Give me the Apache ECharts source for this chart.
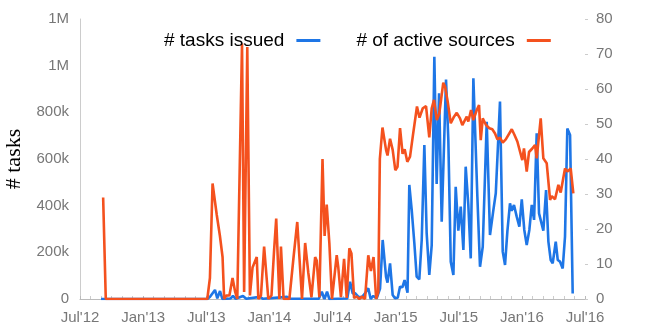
<!DOCTYPE html>
<html><head><meta charset="utf-8">
<script src="https://cdn.jsdelivr.net/npm/echarts@6/dist/echarts.min.js"></script>
<style>html,body{margin:0;padding:0;background:#fff}#c{width:664px;height:332px}</style>
</head><body><div id="c"></div>
<script>
// x values are months since Jul 2012
const xTickLabels = ["Jul'12","Jan'13","Jul'13","Jan'14","Jul'14","Jan'15","Jul'15","Jan'16","Jul'16"];
const leftTickLabels = ['0','200k','400k','600k','800k','1M','1M'];
const seriesNames = ['# tasks issued', '# of active sources'];

const tasksIssued = [
 [2.0,0],[12.1,0],[12.36,10000],[12.83,39000],[13.05,3000],[13.31,34000],[13.53,0],
 [14.3,2000],[14.54,13000],[14.8,1000],[15.49,13000],[15.8,1000],[17.1,9000],[17.4,1000],
 [19.68,9000],[20.0,1000],[22.7,1000],[22.98,31000],[23.24,0],[23.48,31000],[23.7,0],
 [25.4,2000],[25.67,74000],[25.92,24000],[26.14,25000],[26.45,10000],[26.8,8000],[27.09,24000],
 [27.4,46000],[27.63,0],[27.88,13000],[28.2,3000],[28.52,45000],[28.77,253000],[29.09,95000],
 [29.23,70000],[29.47,153000],[29.72,17000],[29.94,3000],[30.2,5000],[30.42,53000],[30.64,50000],
 [30.85,81000],[30.99,78000],[31.13,27000],[31.3,489000],[31.53,381000],[31.78,239000],[32.0,96000],
 [32.25,84000],[32.48,253000],[32.73,660000],[32.95,282000],[33.2,103000],[33.43,231000],
 [33.68,1038000],[33.9,493000],[34.13,882000],[34.38,331000],[34.79,941000],[35.01,681000],
 [35.24,160000],[35.49,103000],[35.71,481000],[35.96,293000],[36.19,396000],[36.44,210000],
 [36.66,567000],[36.91,403000],[37.14,174000],[37.39,946000],[37.55,941000],[37.77,438000],
 [38.02,138000],[38.28,224000],[38.66,760000],[38.97,274000],[39.29,381000],[39.52,453000],
 [39.67,450000],[39.92,846000],[40.18,203000],[40.4,146000],[40.62,289000],[40.87,410000],
 [41.03,378000],[41.25,403000],[41.51,353000],[41.76,310000],[41.99,427000],[42.23,296000],
 [42.46,231000],[42.71,296000],[42.94,403000],[43.16,339000],[43.41,710000],[43.63,367000],
 [43.82,374000],[44.04,293000],[44.3,467000],[44.52,246000],[44.74,167000],[44.93,153000],
 [45.22,246000],[45.41,167000],[45.63,160000],[45.88,131000],[46.1,267000],[46.32,731000],
 [46.58,703000],[46.83,24000]
];

const activeSources = [
 [2.2,29],[2.45,0],[12.1,0],[12.35,6],[12.6,33],[13.0,24],[13.3,18],[13.55,12],[13.7,0],
 [13.9,1],[14.2,1],[14.5,6],[14.75,2],[14.95,0],[15.4,73],[15.6,2],[15.9,72],[16.15,1],
 [16.4,9],[16.8,12],[16.95,0],[17.2,1],[17.5,15],[17.9,0],[18.2,1],[18.45,14],[18.65,23],
 [18.95,0],[19.1,15],[19.35,0],[19.9,0],[20.3,12],[20.65,22],[21.1,0],[21.4,16],[21.7,7.5],
 [22.0,0.5],[22.35,12],[22.5,11],[22.75,0.5],[23.05,40],[23.25,18],[23.45,27],[23.7,16],
 [23.95,0],[24.1,0.5],[24.4,12.5],[24.55,9],[24.8,0.5],[25.1,11.5],[25.35,0.3],[25.6,14.5],
 [25.8,13],[26.05,0.3],[26.3,0.7],[26.55,0],[26.78,0.7],[27.09,0],[27.4,12.5],[27.65,8],
 [27.9,12],[28.15,0],[28.35,2],[28.5,40],[28.75,49],[29.09,42.6],[29.23,41],[29.47,45.8],
 [29.72,42.6],[29.97,36.8],[30.18,37.8],[30.42,48.8],[30.66,41.5],[30.86,42.8],[31.11,39.2],
 [31.37,40.7],[31.65,46.9],[32.03,55],[32.27,51.8],[32.58,54.5],[32.89,55.1],[33.01,55],
 [33.2,46.2],[33.43,54.5],[33.65,56.9],[33.91,51.1],[34.15,53],[34.53,61.8],[34.7,60.7],
 [34.95,56.4],[35.24,50.2],[35.55,52.1],[35.81,53.2],[36.12,51.6],[36.34,49.7],[36.5,49.7],
 [36.76,52.1],[36.91,50.7],[37.17,54],[37.39,51.1],[37.71,54],[37.93,55.4],[38.09,45.4],
 [38.28,51.6],[38.59,49.7],[38.91,48.8],[39.19,48.5],[39.45,47.3],[39.67,45.6],[39.92,46.1],
 [40.18,44.7],[40.47,45.6],[40.66,45.2],[41.04,48.5],[41.28,47],[41.57,45],[41.76,45],
 [42.04,39.7],[42.2,43],[42.46,36.4],[42.68,42],[42.99,43],[43.25,44],[43.41,40.2],
 [43.79,51.6],[44.04,40.2],[44.36,38.8],[44.68,28.3],[44.84,29.4],[45.15,28.5],[45.47,32.6],
 [45.69,30.4],[46.1,37.3],[46.32,36.4],[46.64,37.3],[46.89,30.2]
];

const BLUE = '#1e76e6', ORANGE = '#f4511e';
const FONT = '"Liberation Sans", Arial, sans-serif';
const chart = echarts.init(document.getElementById('c'), null, {renderer: 'canvas'});
chart.setOption({
  animation: false,
  backgroundColor: '#fff',
  grid: {left: 80, right: 79, top: 19, bottom: 33, containLabel: false, outerBoundsMode: 'none'},
  legend: {
    left: 159, top: 26, align: 'right', icon: 'rect', itemWidth: 24, itemHeight: 3, itemGap: 36,
    textStyle: {fontSize: 19, color: '#000', fontFamily: FONT, padding: [0, 7, 0, 0]},
    data: seriesNames
  },
  xAxis: {
    type: 'value', min: 0, max: 48, interval: 6,
    axisLine: {show: true, lineStyle: {color: '#bbb', width: 1}},
    axisTick: {show: true, inside: true, length: 3, lineStyle: {color: '#bbb'}},
    minorTick: {show: true, splitNumber: 6, length: 3, lineStyle: {color: '#ccc'}},
    splitLine: {show: false},
    axisLabel: {color: '#777', fontSize: 15, fontFamily: FONT, margin: 11,
      formatter: v => xTickLabels[Math.round(v / 6)]}
  },
  yAxis: [{
    type: 'value', min: 0, max: 1200000, interval: 200000,
    name: '# tasks', nameLocation: 'middle', nameGap: 53,
    nameTextStyle: {fontFamily: '"Liberation Serif", "Times New Roman", serif', fontSize: 22, color: '#000'},
    axisLine: {show: true, lineStyle: {color: '#ccc'}},
    axisTick: {show: false},
    splitLine: {show: false},
    axisLabel: {color: '#777', fontSize: 15, fontFamily: FONT, margin: 11,
      formatter: v => leftTickLabels[Math.round(v / 200000)]}
  }, {
    type: 'value', min: 0, max: 80, interval: 10, position: 'right',
    axisLine: {show: false},
    axisTick: {show: true, length: 3, lineStyle: {color: '#ccc'}},
    splitLine: {show: false},
    axisLabel: {color: '#777', fontSize: 15, fontFamily: FONT, margin: 11}
  }],
  series: [{
    name: seriesNames[0], type: 'line', yAxisIndex: 0, data: tasksIssued,
    showSymbol: false, symbol: 'none', lineStyle: {color: BLUE, width: 2.6}, itemStyle: {color: BLUE}
  }, {
    name: seriesNames[1], type: 'line', yAxisIndex: 1, data: activeSources,
    showSymbol: false, symbol: 'none', lineStyle: {color: ORANGE, width: 2.6}, itemStyle: {color: ORANGE}
  }]
});
</script>
</body></html>
